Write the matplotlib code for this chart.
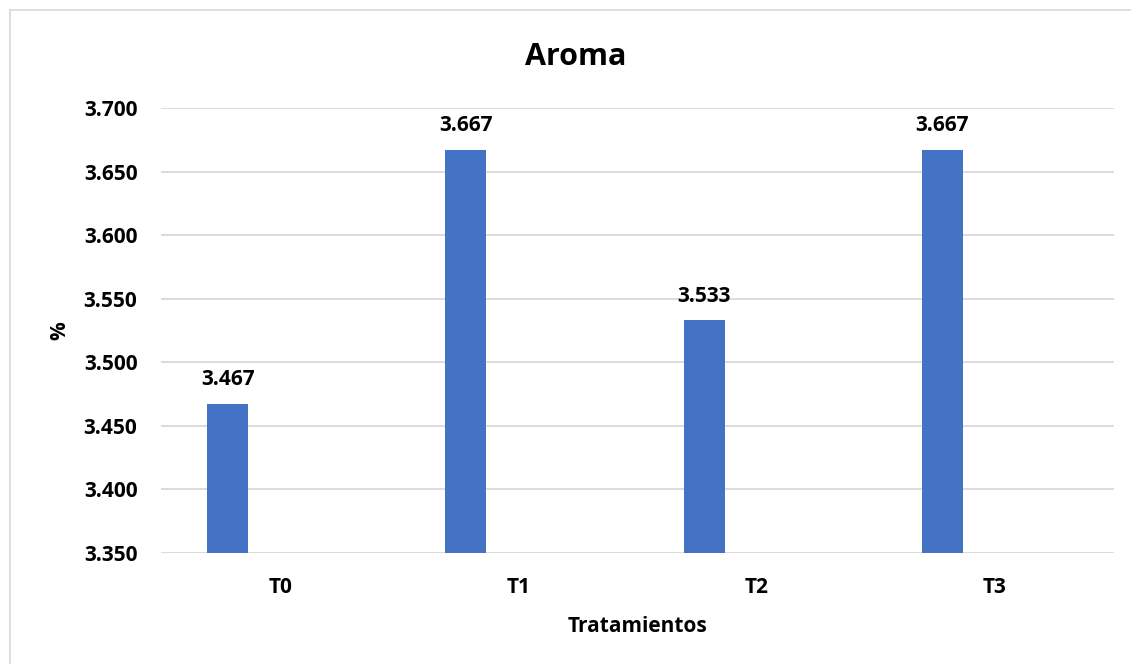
import matplotlib
matplotlib.use("Agg")
import matplotlib.pyplot as plt
from matplotlib.lines import Line2D
import numpy as np

# data
categories = ["T0", "T1", "T2", "T3"]
values = [3.467, 3.667, 3.533, 3.667]
y_ticks = [3.350, 3.400, 3.450, 3.500, 3.550, 3.600, 3.650, 3.700]

plt.rcParams['font.family'] = ['Open Sans', 'DejaVu Sans']
plt.rcParams['font.weight'] = 'bold'

W, H = 1131, 664
fig = plt.figure(figsize=(W / 100, H / 100), dpi=100)

# chart area border (only top and left edges show in the picture)
fig.add_artist(Line2D([10 / W, 10 / W], [0, 1 - 10 / H], color="#D9D9D9", lw=1.2))
fig.add_artist(Line2D([10 / W, 1], [1 - 10 / H, 1 - 10 / H], color="#D9D9D9", lw=1.2))

left, right, top, bottom = 161, 1114, 108, 553
ax = fig.add_axes([left / W, 1 - bottom / H, (right - left) / W, (bottom - top) / H])

x = np.arange(len(categories))
bars = ax.bar(x - 0.22, values, width=0.172, color="#4472C4", zorder=3)

for b, v in zip(bars, values):
    ax.annotate("%.3f" % v, (b.get_x() + b.get_width() / 2, v),
                xytext=(0, 13.5), textcoords="offset points",
                ha="center", va="baseline", fontsize=15, fontweight="bold")

ax.set_xlim(-0.5, len(categories) - 0.5)
ax.set_ylim(y_ticks[0], y_ticks[-1])
ax.set_yticks(y_ticks)
ax.set_yticklabels(["%.3f" % t for t in y_ticks])
ax.set_xticks(x)
ax.set_xticklabels(categories)
ax.tick_params(axis="y", length=0, pad=17, labelsize=15)
ax.tick_params(axis="x", length=0, pad=17, labelsize=15)
ax.grid(axis="y", color="#D9D9D9", lw=1.3, zorder=0)
for s in ax.spines.values():
    s.set_visible(False)

fig.text(576 / W, 1 - 65 / H, "Aroma", ha="center", va="baseline",
         fontsize=22, fontweight="bold")
fig.text((left + right) / 2 / W, 1 - 632 / H, "Tratamientos", ha="center",
         va="baseline", fontsize=15, fontweight="bold")
fig.text(60 / W, 1 - (top + bottom) / 2 / H, "%", ha="center", va="center",
         rotation=90, fontsize=15, fontweight="bold")

fig.savefig("out.png", dpi=100)
